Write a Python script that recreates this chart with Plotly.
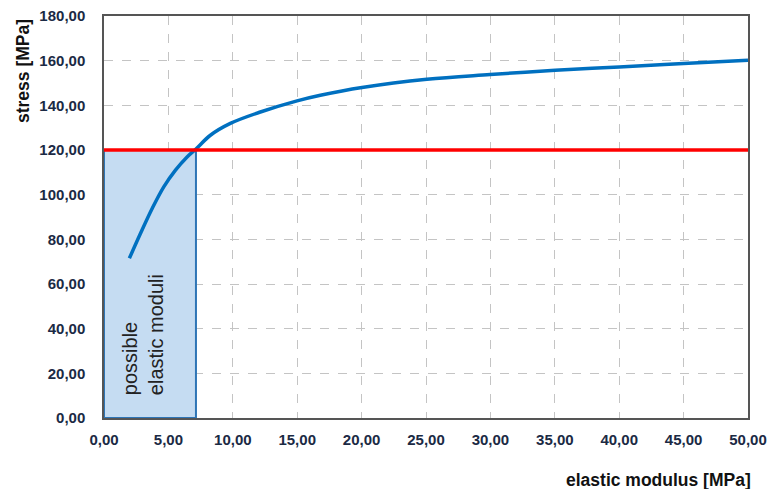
import plotly.graph_objects as go

# Curve: elastic modulus [MPa] vs stress [MPa]
modulus = [1.97, 2.83, 3.74, 4.64, 5.55, 6.45, 7.18, 8.26, 9.81, 12.14, 14.99, 16.8,
           20.03, 25.07, 29.98, 35.03, 40.0, 45.0, 50.0]
stress = [71.5, 82.6, 93.8, 103.5, 111.0, 116.9, 120.7, 126.6, 131.9, 137.0, 142.0, 144.5,
          148.0, 151.7, 153.8, 155.7, 157.2, 158.7, 160.2]

threshold_stress = 120.0
band_modulus_max = 7.14
x_range = [0, 50]
y_range = [0, 180]
x_ticks = [0, 5, 10, 15, 20, 25, 30, 35, 40, 45, 50]
y_ticks = [0, 20, 40, 60, 80, 100, 120, 140, 160, 180]

fig = go.Figure()

# Possible elastic moduli band
fig.add_trace(go.Scatter(
    x=[0, band_modulus_max, band_modulus_max, 0, 0],
    y=[0, 0, threshold_stress, threshold_stress, 0],
    mode="lines", fill="toself", fillcolor="#c5dcf2",
    line=dict(color="#2e75b6", width=2), hoverinfo="skip", showlegend=False))

# Curve
fig.add_trace(go.Scatter(
    x=modulus, y=stress, mode="lines",
    line=dict(color="#0070c0", width=3.5, shape="spline", smoothing=1.0),
    showlegend=False))

# Threshold line
fig.add_trace(go.Scatter(
    x=x_range, y=[threshold_stress, threshold_stress], mode="lines",
    line=dict(color="#ff0000", width=3.5), showlegend=False))

tick_font = dict(family="Liberation Sans, Arial, sans-serif", size=15, color="#1b2a44",
                 weight="bold")

fig.update_xaxes(range=x_range, tickvals=x_ticks, tickformat=".2f", automargin=False,
                 showgrid=True, gridcolor="#c4c4c4", griddash="dash", gridwidth=1,
                 showline=True, linecolor="#555555", linewidth=1.5, mirror=True,
                 zeroline=False, ticks="", tickfont=tick_font, ticklabelstandoff=7)
fig.update_yaxes(range=y_range, tickvals=y_ticks, tickformat=".2f", automargin=False,
                 showgrid=True, gridcolor="#c4c4c4", griddash="dash", gridwidth=1,
                 showline=True, linecolor="#555555", linewidth=1.5, mirror=True,
                 zeroline=False, ticks="", tickfont=tick_font, ticklabelstandoff=14)

title_font = dict(family="Liberation Sans, Arial, sans-serif", size=17.5, color="#111111")

fig.add_annotation(text="<b>stress [MPa]</b>", xref="paper", yref="paper",
                   x=0, y=1, xshift=-81, yshift=-1, xanchor="center", yanchor="top",
                   textangle=-90, showarrow=False, font=title_font)
fig.add_annotation(text="<b>elastic modulus [MPa]</b>", xref="paper", yref="paper",
                   x=1, y=0, xshift=5, yshift=-62, xanchor="right", yanchor="middle",
                   showarrow=False, font=title_font)
fig.add_annotation(text="possible<br>elastic moduli", xref="x", yref="y",
                   x=1.0, y=9.5, xanchor="left", yanchor="bottom", align="left",
                   textangle=-90, showarrow=False,
                   font=dict(family="Liberation Sans, Arial, sans-serif", size=20, color="#222222"))

fig.update_layout(width=768, height=489, separators=",.",
                  margin=dict(l=104, r=20, t=16, b=71),
                  plot_bgcolor="white", paper_bgcolor="white")

# remove the default page margin so the 768x489 figure fills the window exactly
fig.write_html("out.html", config={"displayModeBar": False},
               post_script="document.body.style.margin='0';document.body.style.overflow='hidden';")
